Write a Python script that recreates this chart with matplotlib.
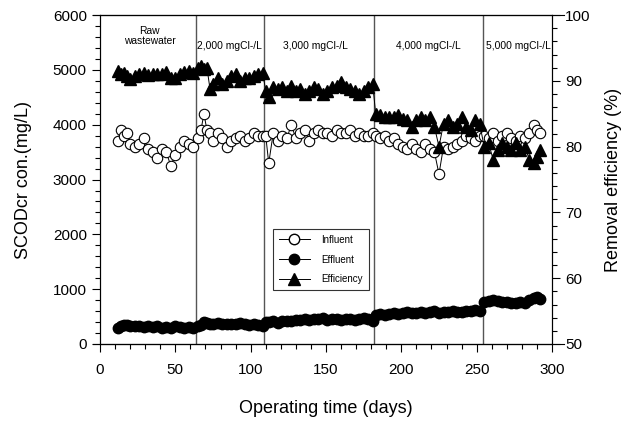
import matplotlib.pyplot as plt
from matplotlib.lines import Line2D
from matplotlib.ticker import MultipleLocator

plt.rcParams['font.family'] = ['Liberation Sans', 'DejaVu Sans']

# Операционные дни по фазам (сырой сток, 2000, 3000, 4000, 5000 mgCl-/L)
days_raw = [12, 14, 16, 18, 20, 23, 26, 29, 32, 35, 38, 41, 44, 47, 50, 53, 56, 59, 62]
days_2000 = [65, 67, 69, 71, 73, 75, 78, 81, 84, 87, 90, 93, 96, 99, 102, 105, 108]
days_3000 = [110, 112, 115, 118, 121, 124, 127, 130, 133, 136, 139, 142, 145, 148,
             151, 154, 157, 160, 163, 166, 169, 172, 175, 178, 181]
days_4000 = [183, 186, 189, 192, 195, 198, 201, 204, 207, 210, 213, 216, 219, 222,
             225, 228, 231, 234, 237, 240, 243, 246, 249, 252]
days_5000 = [255, 258, 261, 264, 267, 270, 273, 276, 279, 282, 285, 288, 290, 292]

influent_raw = [3700, 3900, 3800, 3850, 3650, 3600, 3650, 3750, 3550, 3500, 3400, 3550,
                3500, 3250, 3450, 3600, 3700, 3650, 3600]
influent_2000 = [3750, 3900, 4200, 3900, 3850, 3700, 3850, 3750, 3600, 3700, 3750, 3800,
                 3700, 3750, 3850, 3800, 3800]
influent_3000 = [3800, 3300, 3850, 3700, 3800, 3750, 4000, 3750, 3850, 3900, 3700, 3850,
                 3900, 3850, 3850, 3800, 3900, 3850, 3850, 3900, 3800, 3850, 3800, 3800, 3850]
influent_4000 = [3800, 3750, 3800, 3700, 3750, 3650, 3600, 3550, 3650, 3550, 3500, 3650,
                 3550, 3500, 3100, 3600, 3550, 3600, 3650, 3700, 3800, 3750, 3700, 3800]
influent_5000 = [3800, 3750, 3850, 3700, 3800, 3850, 3750, 3700, 3800, 3750, 3850, 4000,
                 3900, 3850]

effluent_raw = [300, 330, 340, 350, 330, 320, 330, 310, 320, 310, 320, 300, 310, 290,
                320, 310, 300, 310, 300]
effluent_2000 = [320, 350, 400, 380, 370, 370, 380, 360, 370, 360, 370, 380, 360, 350,
                 360, 340, 330]
effluent_3000 = [400, 400, 410, 390, 410, 420, 410, 430, 430, 450, 440, 460, 450, 480,
                 440, 460, 450, 440, 460, 450, 440, 460, 470, 450, 420]
effluent_4000 = [520, 540, 530, 550, 560, 540, 570, 580, 560, 570, 590, 560, 580, 600,
                 570, 590, 580, 600, 580, 590, 610, 600, 620, 600]
effluent_5000 = [760, 790, 800, 780, 770, 760, 750, 740, 760, 740, 800, 840, 850, 820]

eff_raw = [91.5, 91.0, 91.2, 90.8, 90.3, 90.8, 91.0, 91.2, 90.9, 91.0, 91.0, 91.1, 91.3,
           90.4, 90.5, 91.0, 91.4, 91.5, 91.2]
eff_2000 = [92.0, 92.3, 91.8, 92.0, 88.8, 89.5, 90.5, 89.5, 90.0, 90.8, 91.0, 90.0, 90.5,
            90.5, 90.8, 91.0, 91.2]
eff_3000 = [88.5, 87.5, 89.0, 88.8, 89.0, 88.5, 89.3, 88.5, 88.8, 88.0, 88.5, 89.0, 88.8,
            88.0, 88.5, 89.0, 89.3, 89.8, 89.0, 88.8, 88.5, 88.0, 88.5, 89.0, 89.5]
eff_4000 = [85.0, 84.8, 84.5, 84.5, 84.5, 84.8, 84.2, 84.0, 83.0, 84.0, 84.5, 84.0, 84.5,
            83.0, 80.0, 83.5, 84.0, 83.0, 83.5, 84.5, 83.0, 82.5, 84.0, 83.5]
eff_5000 = [80.0, 80.5, 78.0, 79.5, 80.5, 80.0, 79.5, 80.5, 79.5, 80.0, 78.0, 77.5, 78.5,
            79.5]

phase_bounds = [64, 109, 182, 254]
phase_labels = ["Raw\nwastewater", "2,000 mgCl-/L", "3,000 mgCl-/L",
                "4,000 mgCl-/L", "5,000 mgCl-/L"]
phase_label_x = [33, 86, 143, 218, 278]

days = days_raw + days_2000 + days_3000 + days_4000 + days_5000
influent = influent_raw + influent_2000 + influent_3000 + influent_4000 + influent_5000
effluent = effluent_raw + effluent_2000 + effluent_3000 + effluent_4000 + effluent_5000
efficiency = eff_raw + eff_2000 + eff_3000 + eff_4000 + eff_5000

fig = plt.figure(figsize=(6.23, 4.21), dpi=100)
ax = fig.add_axes([0.1605, 0.183, 0.7255, 0.781])

ax.plot(days, influent, color='black', lw=0.7, marker='o', ms=7.5,
        mfc='white', mec='black', mew=0.8, zorder=3)
ax.plot(days, effluent, color='black', lw=0.7, marker='o', ms=7.5,
        mfc='black', mec='black', zorder=3)

for b in phase_bounds:
    ax.axvline(b, color='#555555', lw=1.0, zorder=1)

for lbl, xl in zip(phase_labels, phase_label_x):
    yl = 5620 if '\n' in lbl else 5430
    ax.text(xl, yl, lbl, ha='center', va='center', fontsize=7.4, linespacing=1.1)

ax.set_xlim(0, 300)
ax.set_ylim(0, 6000)
ax.xaxis.set_major_locator(MultipleLocator(50))
ax.xaxis.set_minor_locator(MultipleLocator(10))
ax.yaxis.set_major_locator(MultipleLocator(1000))
ax.yaxis.set_minor_locator(MultipleLocator(200))
ax.tick_params(which='both', direction='out', labelsize=11, width=0.8)
ax.tick_params(which='major', length=6)
ax.tick_params(which='minor', length=3.5)
ax.tick_params(axis='x', pad=8)
ax.set_xlabel("Operating time (days)", fontsize=13, labelpad=16)
ax.set_ylabel("SCODcr con.(mg/L)", fontsize=13, labelpad=15)

ax2 = ax.twinx()
ax2.plot(days, efficiency, color='black', lw=0.7, marker='^', ms=8.5,
         mfc='black', mec='black', zorder=3)
ax2.set_ylim(50, 100)
ax2.yaxis.set_major_locator(MultipleLocator(10))
ax2.yaxis.set_minor_locator(MultipleLocator(2))
ax2.tick_params(which='both', direction='out', labelsize=11, width=0.8)
ax2.tick_params(which='major', length=6)
ax2.tick_params(which='minor', length=3.5)
ax2.set_ylabel("Removal efficiency (%)", fontsize=13, labelpad=10)

for a in (ax, ax2):
    for s in a.spines.values():
        s.set_linewidth(0.8)

# горизонтальные линии рамки чуть выходят за боковые оси
for yy in (0, 1):
    ax.add_line(Line2D([-0.016, 1.026], [yy, yy], transform=ax.transAxes,
                       color='black', lw=0.8, clip_on=False))

handles = [
    Line2D([0], [0], color='black', lw=0.7, marker='o', ms=7.5, mfc='white', mec='black'),
    Line2D([0], [0], color='black', lw=0.7, marker='o', ms=7.5, mfc='black', mec='black'),
    Line2D([0], [0], color='black', lw=0.7, marker='^', ms=8.5, mfc='black', mec='black'),
]
leg = ax2.legend(handles, ["Influent", "Effluent", "Efficiency"], loc='lower left',
                 bbox_to_anchor=(0.372, 0.149), fontsize=7, frameon=True,
                 fancybox=False, edgecolor='black', handlelength=3.2,
                 borderpad=0.6, labelspacing=1.0, handletextpad=1.2)
leg.get_frame().set_linewidth(0.8)

fig.savefig("out.png", dpi=100)
